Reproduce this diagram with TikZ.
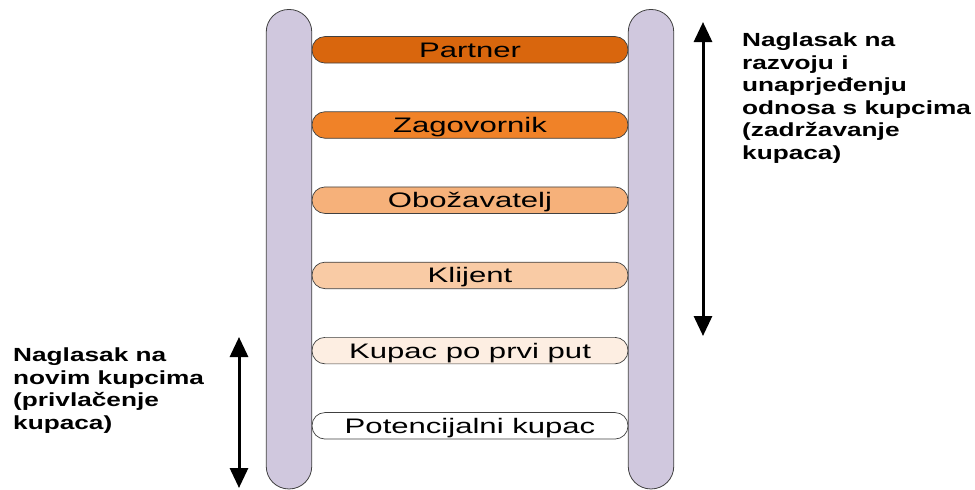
\documentclass[tikz,border=0pt]{standalone}
\usepackage{fontspec}
\usepackage{tikz,xcolor}
\usetikzlibrary{positioning,arrows.meta}
\newfontfamily\barfont[FakeStretch=1.48]{Liberation Sans}
\newfontfamily\notefont[FakeStretch=1.38]{Liberation Sans}
\definecolor{railfill}{RGB}{208,200,222}
\definecolor{partnerc}{RGB}{217,102,13}
\definecolor{zagovc}{RGB}{240,130,40}
\definecolor{obozc}{RGB}{246,177,122}
\definecolor{klijc}{RGB}{249,203,165}
\definecolor{kupacc}{RGB}{253,238,226}
\tikzset{
    rung/.style={ % one step of the ladder
        draw=black!75,
        line width=0.7pt,
        rounded corners=13pt,
        minimum width=316pt,
        minimum height=26.5pt,
        inner ysep=0pt,
        outer sep=0pt,
        text height=15pt,
        text depth=0pt,
        font=\barfont\fontsize{21}{24}\selectfont
    },
    rail/.style={
        draw=black!75,
        line width=0.8pt,
        fill=railfill,
        rounded corners=22.5pt,
        minimum width=45.5pt,
        minimum height=479.5pt
    },
    note/.style={
        align=left,
        inner sep=0pt,
        font=\notefont\bfseries\fontsize{19}{22.6}\selectfont
    },
    twoway/.style={
        {Triangle[width=18pt,length=20pt]}-{Triangle[width=18pt,length=20pt]},
        line width=3pt
    }
}

\begin{document}
\begin{tikzpicture}[x=1pt,y=-1pt]
        \useasboundingbox (0,0) rectangle (975,490);
        \def\len{48.7}
        \node[rung,fill=partnerc] (partner) at (470,49.8) {Partner};
        \node[rung,fill=zagovc,below=\len pt of partner] (zagovornik) {Zagovornik};
        \node[rung,fill=obozc,below=\len pt of zagovornik] (obozavatelj) {Obožavatelj};
        \node[rung,fill=klijc,below=\len pt of obozavatelj] (klijent) {Klijent};
        \node[rung,fill=kupacc,below=\len pt of klijent] (kupac) {Kupac po prvi put};
        \node[rung,fill=white,below=\len pt of kupac] (potencijalni) {Potencijalni kupac};
        
        
        \node[rail] (leftrail) at (289,249.2) {};
        \node[rail] (rightrail) at (651,249.2) {};
        
        
        \coordinate (keeptop) at (703,22);
        \coordinate (keepbot) at (703,336);
        \coordinate (newtop) at (239,337);
        \coordinate (newbot) at (239,488);
        \draw[twoway] (keeptop) -- (keepbot);
        \draw[twoway] (newtop) -- (newbot);
        
        
        \node[note,anchor=north west] (keepnote) at (742,32.5) {Naglasak na\\razvoju i\\unaprjeđenju\\odnosa s kupcima\\(zadržavanje\\kupaca)};
        \node[note,anchor=north west] (newnote) at (13,347.5) {Naglasak na\\novim kupcima\\(privlačenje\\kupaca)};
\end{tikzpicture}
\end{document}
